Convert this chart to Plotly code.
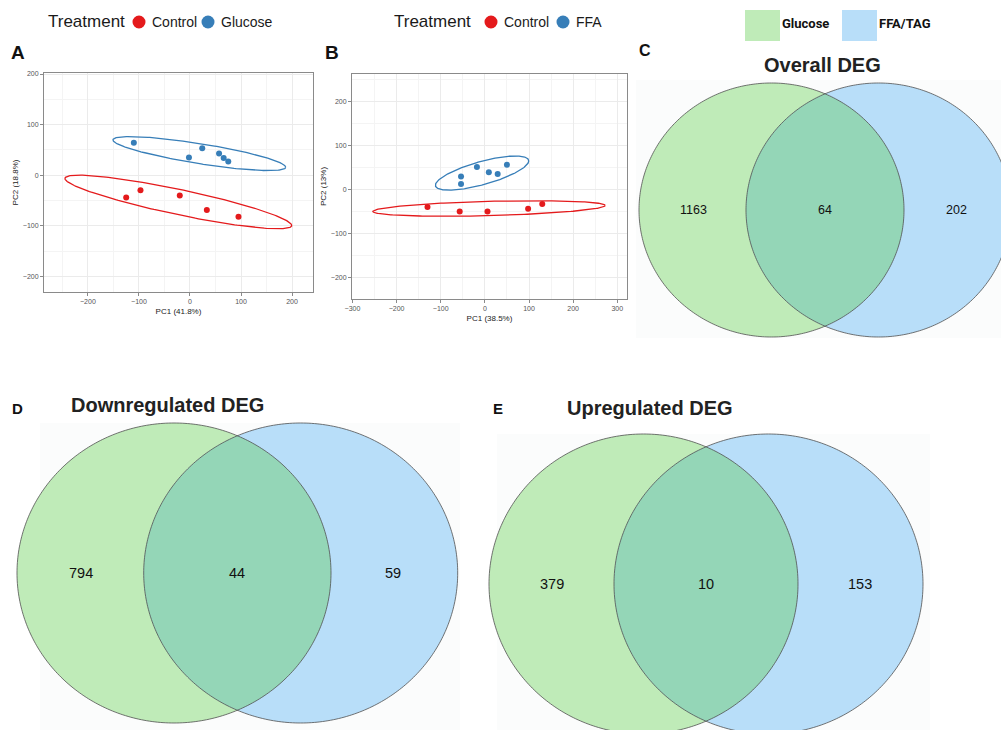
import numpy as np
import plotly.graph_objects as go

# ---- PCA scores (PC1, PC2) ----
a_glucose_pc1 = [-110, -2, 24, 57, 66, 75]
a_glucose_pc2 = [64, 35, 53, 43, 34, 27]
a_control_pc1 = [-125, -97, -20, 33, 95]
a_control_pc2 = [-44, -30, -40, -69, -82]

b_ffa_pc1 = [-54, -54, -18, 9, 29, 50]
b_ffa_pc2 = [29, 12, 51, 39, 35, 56]
b_control_pc1 = [-130, -57, 6, 98, 130]
b_control_pc2 = [-40, -50, -50, -44, -33]

pc_labels_a = ["PC1 (41.8%)", "PC2 (18.8%)"]
pc_labels_b = ["PC1 (38.5%)", "PC2 (13%)"]
groups_a = ["Control", "Glucose"]
groups_b = ["Control", "FFA"]

# ---- DEG overlaps ----
venn_sets = ["Glucose", "FFA/TAG"]
venn_titles = ["Overall DEG", "Downregulated DEG", "Upregulated DEG"]
glucose_only = [1163, 794, 379]
shared = [64, 44, 10]
ffa_only = [202, 59, 153]

RED = "#E41A1C"
BLUE = "#377EB8"
GREEN_FILL = "#BFEBB8"
BLUE_FILL = "#B8DEF9"
BOTH_FILL = "#94D6B7"

W, H = 1001, 730


def px(x):
    return x / W


def py(y):
    return 1 - y / H


def conf_ellipse(xs, ys, n=240):
    """95% normal confidence ellipse from the sample covariance."""
    pts = np.column_stack([xs, ys]).astype(float)
    centre = pts.mean(axis=0)
    chol = np.linalg.cholesky(np.cov(pts.T))
    t = np.linspace(0, 2 * np.pi, n)
    circ = np.vstack([np.cos(t), np.sin(t)])
    e = centre[:, None] + np.sqrt(5.991464547107979) * chol @ circ
    return e[0], e[1]


fig = go.Figure()


def add_pca(xs_c, ys_c, xs_t, ys_t, xa, ya):
    for xs, ys, col in ((xs_c, ys_c, RED), (xs_t, ys_t, BLUE)):
        ex, ey = conf_ellipse(xs, ys)
        fig.add_trace(go.Scatter(x=ex, y=ey, mode="lines", xaxis=xa, yaxis=ya,
                                 line=dict(color=col, width=1.3), showlegend=False,
                                 hoverinfo="skip"))
        fig.add_trace(go.Scatter(x=xs, y=ys, mode="markers", xaxis=xa, yaxis=ya,
                                 marker=dict(color=col, size=6), showlegend=False))


add_pca(a_control_pc1, a_control_pc2, a_glucose_pc1, a_glucose_pc2, "x", "y")
add_pca(b_control_pc1, b_control_pc2, b_ffa_pc1, b_ffa_pc2, "x2", "y2")

axis_common = dict(
    automargin=False,
    showline=True, mirror=True, linecolor="#8a8a8a", linewidth=1,
    showgrid=True, gridcolor="#ebebeb", gridwidth=1, zeroline=False,
    ticks="outside", ticklen=3, tickcolor="#8a8a8a", tickwidth=1,
    tickfont=dict(family="Liberation Sans, Arial, sans-serif", size=7, color="#555555"),
    minor=dict(showgrid=True, gridcolor="#f4f4f4", gridwidth=1, dtick=50, tick0=0),
)
title_font = dict(family="Liberation Sans, Arial, sans-serif", size=8, color="#222222")

fig.update_layout(
    xaxis=dict(domain=[px(44), px(313)], range=[-286, 241], tickvals=[-200, -100, 0, 100, 200],
               title=dict(text=pc_labels_a[0], font=title_font, standoff=3), anchor="y", **axis_common),
    yaxis=dict(domain=[py(292), py(73)], range=[-231, 202], tickvals=[-200, -100, 0, 100, 200],
               title=dict(text=pc_labels_a[1], font=title_font, standoff=3), anchor="x", **axis_common),
    xaxis2=dict(domain=[px(352), px(627)], range=[-301, 322],
                tickvals=[-300, -200, -100, 0, 100, 200, 300],
                title=dict(text=pc_labels_b[0], font=title_font, standoff=3), anchor="y2", **axis_common),
    yaxis2=dict(domain=[py(299), py(74)], range=[-249, 262], tickvals=[-200, -100, 0, 100, 200],
                title=dict(text=pc_labels_b[1], font=title_font, standoff=3), anchor="x2", **axis_common),
)

shapes = []
annotations = []
SANS = "Liberation Sans, Arial, sans-serif"


def text(x, y, s, size, bold=False, anchor="center", family=SANS, color="#1a1a1a"):
    annotations.append(dict(
        x=px(x), y=py(y), xref="paper", yref="paper", text=f"<b>{s}</b>" if bold else s,
        showarrow=False, xanchor=anchor, yanchor="middle",
        font=dict(family=family, size=size, color=color), borderpad=0))


def dot(cx, cy, r, col):
    shapes.append(dict(type="circle", xref="paper", yref="paper",
                       x0=px(cx - r), x1=px(cx + r), y0=py(cy + r), y1=py(cy - r),
                       fillcolor=col, line=dict(width=0)))


# ---- group legends above the PCA panels ----
for (title_x, dots, labels) in (
    (47, (139, 208), groups_a),
    (393, (491, 563), groups_b),
):
    text(title_x, 22, "Treatment", 17, anchor="left", color="#1a1a1a")
    for cx, lab, col in zip(dots, labels, (RED, BLUE)):
        dot(cx, 22, 6.5, col)
        text(cx + 12, 22, lab, 14, anchor="left")

# ---- Venn legend ----
for (x0, x1), lab, col in zip(((745, 780), (842, 877)), venn_sets, (GREEN_FILL, BLUE_FILL)):
    shapes.append(dict(type="rect", xref="paper", yref="paper",
                       x0=px(x0), x1=px(x1), y0=py(41), y1=py(10),
                       fillcolor=col, line=dict(width=0)))
    text(x1 + 1, 23, lab, 13, bold=True, anchor="left", family="Roboto, Arial, sans-serif",
         color="#111111")

# ---- panel letters ----
for lab, x, y, s in (("A", 18, 52, 19), ("B", 332, 52, 19), ("C", 645, 51, 16),
                     ("D", 17, 408, 15), ("E", 498, 408, 15)):
    text(x, y, lab, s, bold=True, color="#111111")

# ---- Venn diagrams ----
venn_geom = [
    dict(cx1=771.5, cx2=878.5, cy=210, rx=132.5, ry=127, title=(822, 65), bg=(636, 80, 1001, 338), num=12.5),
    dict(cx1=174, cx2=300.7, cy=573, rx=157, ry=150, title=(167, 405), bg=(40, 423, 460, 730), num=14.5),
    dict(cx1=643.5, cx2=768.5, cy=584, rx=154.5, ry=150, title=(650, 408), bg=(497, 434, 930, 730), num=14.5),
]


def path_from(xs, ys):
    pts = [f"{px(x):.5f},{py(y):.5f}" for x, y in zip(xs, ys)]
    return "M" + " L".join(pts) + " Z"


for g, ttl, n_g, n_s, n_f in zip(venn_geom, venn_titles, glucose_only, shared, ffa_only):
    bx0, by0, bx1, by1 = g["bg"]
    shapes.append(dict(type="rect", xref="paper", yref="paper", x0=px(bx0), x1=px(bx1),
                       y0=py(by1), y1=py(by0), fillcolor="#FBFCFC", line=dict(width=0), layer="below"))
    cx1, cx2, cy, rx, ry = g["cx1"], g["cx2"], g["cy"], g["rx"], g["ry"]
    t = np.linspace(0, 2 * np.pi, 361)
    for cx, col in ((cx1, GREEN_FILL), (cx2, BLUE_FILL)):
        shapes.append(dict(type="path", xref="paper", yref="paper",
                           path=path_from(cx + rx * np.cos(t), cy + ry * np.sin(t)),
                           fillcolor=col, line=dict(width=0)))
    # lens shared by both sets
    t0 = np.arccos((cx2 - cx1) / 2 / rx)
    ta = np.linspace(-t0, t0, 120)
    tb = np.linspace(np.pi - t0, np.pi + t0, 120)
    lx = np.concatenate([cx1 + rx * np.cos(ta), cx2 + rx * np.cos(tb)])
    ly = np.concatenate([cy + ry * np.sin(ta), cy + ry * np.sin(tb)])
    shapes.append(dict(type="path", xref="paper", yref="paper", path=path_from(lx, ly),
                       fillcolor=BOTH_FILL, line=dict(width=0)))
    for cx in (cx1, cx2):
        shapes.append(dict(type="path", xref="paper", yref="paper",
                           path=path_from(cx + rx * np.cos(t), cy + ry * np.sin(t)),
                           fillcolor="rgba(0,0,0,0)", line=dict(color="#505050", width=0.8)))
    text(g["title"][0], g["title"][1], ttl, 20, bold=True, color="#222222")
    text(cx1 - 0.59 * rx, cy, str(n_g), g["num"], color="#111111")
    text((cx1 + cx2) / 2, cy, str(n_s), g["num"], color="#111111")
    text(cx2 + 0.59 * rx, cy, str(n_f), g["num"], color="#111111")

fig.update_layout(
    width=W, height=H, autosize=False,
    margin=dict(l=0, r=0, t=0, b=0, pad=0, autoexpand=False),
    paper_bgcolor="white", plot_bgcolor="white",
    shapes=shapes, annotations=annotations,
    showlegend=False,
)

fig.write_html("out.html")
